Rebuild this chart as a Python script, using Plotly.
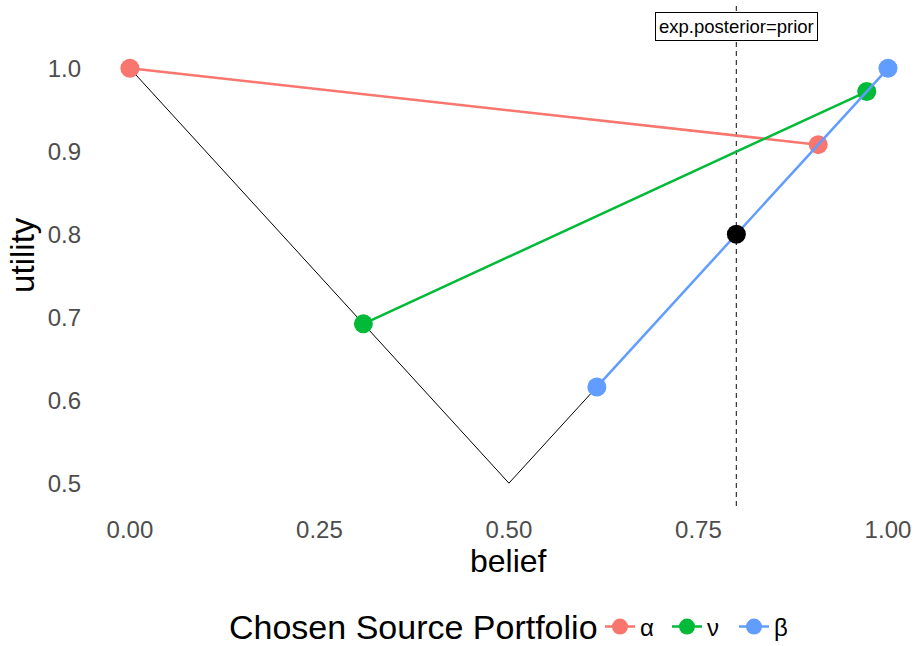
import plotly.graph_objects as go

# Utility of the belief: u(b) = max(b, 1 - b)
curve_belief = [0.0, 0.5, 1.0]
curve_utility = [1.0, 0.5, 1.0]

# Posterior pairs for each source portfolio
portfolio_names = ["α", "ν", "β"]
portfolio_colors = ["#F8766D", "#00BA38", "#619CFF"]
alpha_belief = [0.0, 0.908]
alpha_utility = [1.0, 0.908]
nu_belief = [0.308, 0.972]
nu_utility = [0.692, 0.972]
beta_belief = [0.616, 1.0]
beta_utility = [0.616, 1.0]

prior = 0.8
prior_utility = 0.8
label_text = "exp.posterior=prior"
label_y = 1.05

x_ticks = [0.0, 0.25, 0.5, 0.75, 1.0]
x_tick_text = ["0.00", "0.25", "0.50", "0.75", "1.00"]
y_ticks = [0.5, 0.6, 0.7, 0.8, 0.9, 1.0]
y_tick_text = ["0.5", "0.6", "0.7", "0.8", "0.9", "1.0"]

FONT = "Liberation Sans, Arial, sans-serif"

fig = go.Figure()

fig.add_trace(go.Scatter(
    x=curve_belief, y=curve_utility, mode="lines",
    line=dict(color="black", width=1), showlegend=False, hoverinfo="skip",
))

fig.add_shape(
    type="line", xref="x", yref="paper", x0=prior, x1=prior, y0=0, y1=1,
    line=dict(color="#333333", width=1.2, dash="5px,4px"), layer="below",
)

series = [
    (alpha_belief, alpha_utility),
    (nu_belief, nu_utility),
    (beta_belief, beta_utility),
]
for name, color, (bx, uy) in zip(portfolio_names, portfolio_colors, series):
    fig.add_trace(go.Scatter(
        x=bx, y=uy, mode="lines+markers", name=name,
        line=dict(color=color, width=2.5),
        marker=dict(color=color, size=19),
    ))

fig.add_trace(go.Scatter(
    x=[prior], y=[prior_utility], mode="markers",
    marker=dict(color="black", size=19), showlegend=False,
))

fig.add_annotation(
    x=prior, y=label_y, xref="x", yref="y", text=label_text, showarrow=False,
    font=dict(family=FONT, size=18.5, color="black"),
    bgcolor="white", bordercolor="black", borderwidth=1, borderpad=3,
)

fig.add_annotation(
    x=0.5, xref="x", y=-0.11, yref="paper", text="belief", showarrow=False,
    xanchor="center", yanchor="middle",
    font=dict(family=FONT, size=32, color="black"),
)
fig.add_annotation(
    x=-0.085, xref="paper", y=0.5, yref="paper", text="utility", showarrow=False,
    textangle=-90, xanchor="center", yanchor="middle",
    font=dict(family=FONT, size=33, color="black"),
)
fig.add_annotation(
    x=0.6158, xref="paper", y=-0.2406, yref="paper",
    text="Chosen Source Portfolio", showarrow=False,
    xanchor="right", yanchor="middle",
    font=dict(family=FONT, size=34, color="black"),
)

fig.update_layout(
    width=917, height=646,
    margin=dict(l=92, r=0, t=4, b=140),
    paper_bgcolor="white", plot_bgcolor="white",
    font=dict(family=FONT),
    showlegend=True,
    legend=dict(
        orientation="h", xref="container", x=600 / 917, xanchor="left",
        yref="container", y=1 - 627 / 646, yanchor="middle",
        font=dict(family=FONT, size=24, color="black"),
        itemwidth=30, entrywidth=22,
    ),
    xaxis=dict(
        range=[-0.05, 1.0383], showgrid=False, zeroline=False, showline=False,
        tickvals=x_ticks, ticktext=x_tick_text, ticks="",
        ticklabelstandoff=7,
        tickfont=dict(family=FONT, size=24, color="#4D4D4D"),
    ),
    yaxis=dict(
        range=[0.4725, 1.0775], showgrid=False, zeroline=False, showline=False,
        tickvals=y_ticks, ticktext=y_tick_text, ticks="",
        ticklabelstandoff=10,
        tickfont=dict(family=FONT, size=24, color="#4D4D4D"),
    ),
)

fig.write_html("out.html")
